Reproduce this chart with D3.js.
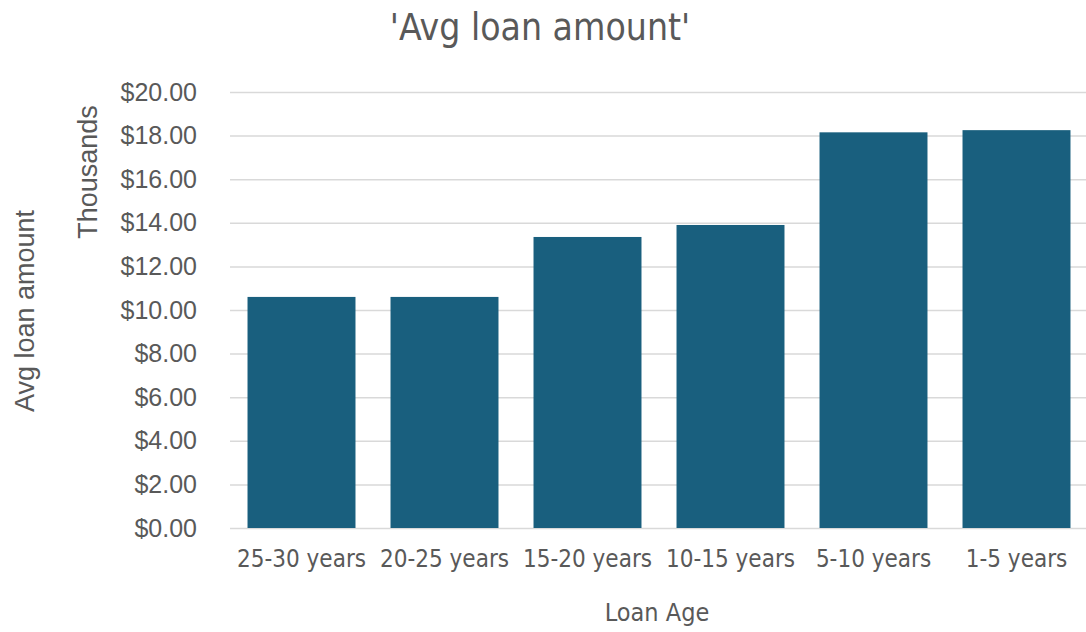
<html>

<head>
  <script src="https://d3js.org/d3.v7.min.js"></script>
  <style>
    body {
      margin: 0;
      background: #fff;
      font-family: 'Liberation Sans', Arial, sans-serif;
    }

    .narrow {
      font-family: 'Liberation Sans Narrow', 'DejaVu Sans Condensed', 'Liberation Sans', sans-serif;
    }

    .grid line {
      stroke: #d9d9d9;
      stroke-width: 1.5;
    }
  </style>
</head>

<body>
  <svg id="loanBar" width="1086" height="632"></svg>

  <script>
    // data
    const loanAges = ["25-30 years", "20-25 years", "15-20 years", "10-15 years", "5-10 years", "1-5 years"];
    const avgLoan = [10.6, 10.6, 13.35, 13.9, 18.15, 18.25]; // thousands
    const yTicks = [0, 2, 4, 6, 8, 10, 12, 14, 16, 18, 20];

    const svg = d3.select("svg#loanBar");
    const width = +svg.attr("width");
    const height = +svg.attr("height");
    const margin = { top: 92, right: 0, bottom: 104, left: 230 };
    const textColor = "#595959";

    // scales
    const xScale = d3.scaleBand()
      .domain(loanAges)
      .range([margin.left, 1088])
      .paddingInner(0.245)
      .paddingOuter(0.1225);

    const yScale = d3.scaleLinear()
      .domain([0, 20])
      .range([height - margin.bottom, margin.top]);

    // gridlines
    svg.append("g")
      .attr("class", "grid")
      .attr("transform", `translate(${margin.left},0)`)
      .call(d3.axisLeft(yScale).tickValues(yTicks).tickSize(-(width - margin.left)).tickFormat(""))
      .call(g => g.select(".domain").remove());

    // y axis labels
    svg.append("g")
      .attr("transform", `translate(${margin.left},0)`)
      .call(d3.axisLeft(yScale).tickValues(yTicks).tickSize(0).tickPadding(33)
        .tickFormat(d => "$" + d3.format(".2f")(d)))
      .call(g => g.select(".domain").remove())
      .call(g => g.selectAll("text")
        .attr("fill", textColor)
        .style("font-family", "'Liberation Sans', Arial, sans-serif")
        .style("font-size", "25px"));

    // bars
    svg.selectAll("rect.bar")
      .data(loanAges)
      .join("rect").attr("class", "bar")
      .attr("fill", "#195f7e")
      .attr("x", d => xScale(d))
      .attr("width", xScale.bandwidth())
      .attr("y", (d, i) => yScale(avgLoan[i]))
      .attr("height", (d, i) => yScale(0) - yScale(avgLoan[i]));

    // x axis labels
    svg.append("g")
      .attr("transform", `translate(0,${yScale(0)})`)
      .call(d3.axisBottom(xScale).tickSize(0).tickPadding(22))
      .call(g => g.select(".domain").remove())
      .call(g => g.selectAll("text")
        .attr("class", "narrow")
        .attr("fill", textColor)
        .style("font-size", "24px"));

    // title
    svg.append("text")
      .attr("class", "narrow")
      .attr("x", 540)
      .attr("y", 40)
      .attr("text-anchor", "middle")
      .attr("fill", textColor)
      .style("font-size", "37px")
      .text("'Avg loan amount'");

    // x axis title
    svg.append("text")
      .attr("class", "narrow")
      .attr("x", 657)
      .attr("y", 621)
      .attr("text-anchor", "middle")
      .attr("fill", textColor)
      .style("font-size", "25px")
      .text("Loan Age");

    // y axis titles
    svg.append("text")
      .attr("transform", "translate(34,311) rotate(-90)")
      .attr("text-anchor", "middle")
      .attr("fill", textColor)
      .style("font-size", "27px")
      .text("Avg loan amount");

    svg.append("text")
      .attr("transform", "translate(97,172) rotate(-90)")
      .attr("text-anchor", "middle")
      .attr("fill", textColor)
      .style("font-size", "27px")
      .text("Thousands");
  </script>
</body>

</html>
